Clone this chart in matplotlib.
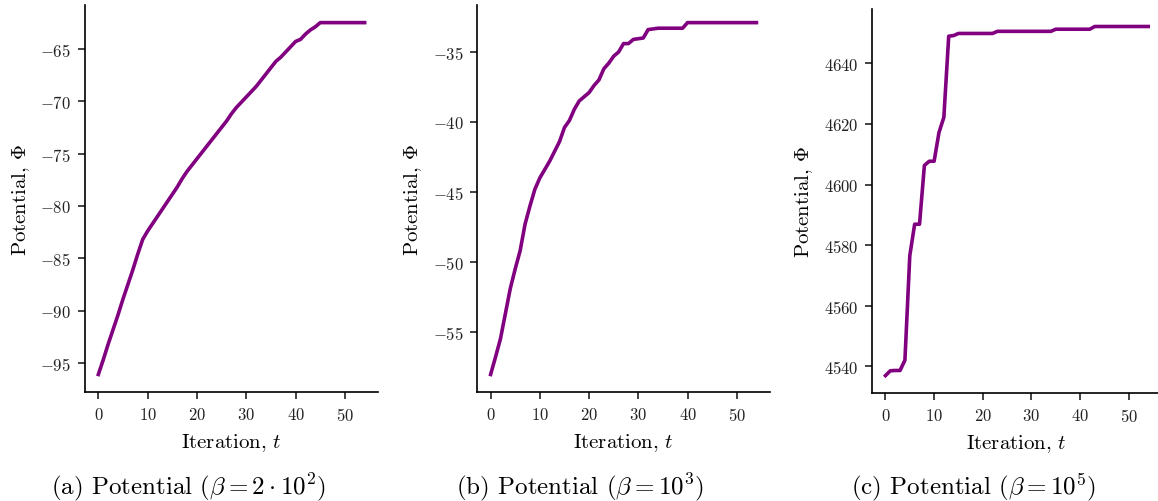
import matplotlib
matplotlib.use("Agg")
import matplotlib.pyplot as plt
import numpy as np

plt.rcParams["font.family"] = "serif"
plt.rcParams["font.serif"] = ["cmr10", "DejaVu Serif"]
plt.rcParams["mathtext.fontset"] = "cm"
plt.rcParams["axes.formatter.use_mathtext"] = True
plt.rcParams["axes.unicode_minus"] = True

# potential per iteration
phi_a = [-96.1, -94.7, -93.2, -91.8, -90.4, -88.9, -87.5, -86.1, -84.6, -83.2,
         -82.4, -81.7, -81.0, -80.3, -79.6, -78.9, -78.2, -77.4, -76.7, -76.1,
         -75.5, -74.9, -74.3, -73.7, -73.1, -72.5, -71.9, -71.2, -70.6, -70.1,
         -69.6, -69.1, -68.6, -68.0, -67.4, -66.8, -66.2, -65.8, -65.3, -64.8,
         -64.3, -64.1, -63.6, -63.2, -62.9, -62.5, -62.5, -62.5, -62.5, -62.5,
         -62.5, -62.5, -62.5, -62.5, -62.5]
phi_b = [-58.05, -56.8, -55.5, -53.7, -51.9, -50.5, -49.2, -47.3, -46.0, -44.8,
         -44.0, -43.4, -42.8, -42.1, -41.4, -40.4, -39.9, -39.1, -38.5, -38.2,
         -37.9, -37.4, -37.0, -36.2, -35.8, -35.3, -35.0, -34.4, -34.4, -34.1,
         -34.05, -34.0, -33.4, -33.35, -33.3, -33.3, -33.3, -33.3, -33.3, -33.3,
         -32.9, -32.9, -32.9, -32.9, -32.9, -32.9, -32.9, -32.9, -32.9, -32.9,
         -32.9, -32.9, -32.9, -32.9, -32.9]
phi_c = [4536.9, 4538.5, 4538.6, 4538.6, 4542.0, 4576.5, 4586.9, 4586.9, 4606.3, 4607.7,
         4607.7, 4617.2, 4622.2, 4649.0, 4649.2, 4649.9, 4649.9, 4649.9, 4649.9, 4649.9,
         4649.9, 4649.9, 4649.9, 4650.6, 4650.6, 4650.6, 4650.6, 4650.6, 4650.6, 4650.6,
         4650.6, 4650.6, 4650.6, 4650.6, 4650.6, 4651.3, 4651.3, 4651.3, 4651.3, 4651.3,
         4651.3, 4651.3, 4651.3, 4652.2, 4652.2, 4652.2, 4652.2, 4652.2, 4652.2, 4652.2,
         4652.2, 4652.2, 4652.2, 4652.2, 4652.2]

series = [phi_a, phi_b, phi_c]
captions = [r"(a) Potential ($\beta = 2 \cdot 10^2$)",
            r"(b) Potential ($\beta = 10^3$)",
            r"(c) Potential ($\beta = 10^5$)"]

fig = plt.figure(figsize=(11.58, 5.02), dpi=100)
boxes = [[0.0734, 0.217, 0.253, 0.771],
         [0.4122, 0.217, 0.2525, 0.771],
         [0.7533, 0.215, 0.2496, 0.765]]
cap_x = [0.163, 0.501, 0.841]

for i, vals in enumerate(series):
    ax = fig.add_axes(boxes[i])
    t = np.arange(len(vals))
    ax.plot(t, vals, color="purple", lw=2.6)
    ax.spines["top"].set_visible(False)
    ax.spines["right"].set_visible(False)
    ax.spines["left"].set_linewidth(1.2)
    ax.spines["bottom"].set_linewidth(1.2)
    ax.tick_params(direction="out", length=5, width=1.2, labelsize=12,
                   colors="#222222", pad=5)
    ax.set_xticks([0, 10, 20, 30, 40, 50])
    if i == 2:
        ax.set_yticks([4540, 4560, 4580, 4600, 4620, 4640])
    ax.set_xlabel(r"Iteration, $t$", fontsize=15, labelpad=6)
    ax.set_ylabel(r"Potential, $\Phi$", fontsize=15, labelpad=6)
    fig.text(cap_x[i], 0.03, captions[i], fontsize=18, ha="center", va="center")

fig.savefig("out.png", dpi=100)
